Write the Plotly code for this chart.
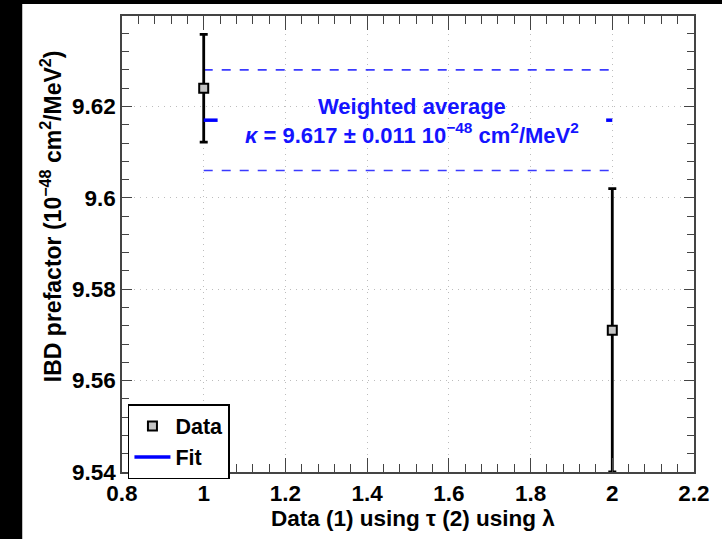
import plotly.graph_objects as go

# ---- data ----
meas_x = [1, 2]
meas_y = [9.624, 9.571]
meas_err = [0.0118, 0.031]

avg_value = 9.617
avg_err = 0.011
avg_x_span = [1, 2]

fit_x = [1.0, 1.034, None, 1.985, 2.0]
fit_y = [9.617, 9.617, None, 9.617, 9.617]

x_range = [0.8, 2.2]
y_range = [9.54, 9.6398]

FONT = "Liberation Sans, Arial, Helvetica, sans-serif"
BLUE = "#1414ff"

fig = go.Figure()

# weighted average band (dashed)
for yv in [avg_value + avg_err, avg_value - avg_err]:
    fig.add_trace(go.Scatter(
        x=avg_x_span, y=[yv, yv], mode="lines",
        line=dict(color="#3a3aff", width=1.6, dash="dash"),
        showlegend=False, hoverinfo="skip"))

fig.add_trace(go.Scatter(
    x=meas_x, y=meas_y, mode="markers", name="Data",
    marker=dict(symbol="square", size=9, color="#c4c4c4",
                line=dict(color="black", width=2)),
    error_y=dict(type="data", array=meas_err, color="black",
                 thickness=2.8, width=4),
))

fig.add_trace(go.Scatter(
    x=fit_x, y=fit_y, mode="lines", name="Fit",
    line=dict(color="#0000ff", width=3.5),
))

axis_common = dict(
    showline=True, linecolor="#444", linewidth=1.5, mirror="allticks",
    ticks="inside", tickcolor="#444", tickwidth=1.2,
    showgrid=True, gridcolor="#bdbdbd", griddash="1px,5px", gridwidth=1,
    zeroline=False,
    tickfont=dict(family=FONT, size=22.5, color="black", weight="bold"),
)

fig.update_xaxes(range=x_range, dtick=0.2, tick0=0.8, ticklen=14,
                 minor=dict(dtick=0.04, ticks="inside", ticklen=8,
                            tickcolor="#444", showgrid=False),
                 **axis_common)
fig.update_yaxes(range=y_range, dtick=0.02, tick0=9.54, ticklen=10,
                 minor=dict(dtick=0.004, ticks="inside", ticklen=7,
                            tickcolor="#444", showgrid=False),
                 **axis_common)

annotations = [
    dict(x=1.51, y=9.6168, xref="x", yref="y", showarrow=False,
         text="Weighted average<br><i>κ</i> = 9.617 ± 0.011 10<sup>−48</sup> cm<sup>2</sup>/MeV<sup>2</sup>",
         font=dict(family=FONT, size=22, color=BLUE, weight="bold")),
    dict(x=0.508, y=-0.102, xref="paper", yref="paper", showarrow=False,
         xanchor="center", yanchor="middle",
         text="Data (1) using τ (2) using λ",
         font=dict(family=FONT, size=22.5, color="black", weight="bold")),
    dict(x=-0.125, y=0.56, xref="paper", yref="paper", showarrow=False,
         xanchor="center", yanchor="middle", textangle=-90,
         text="IBD prefactor (10<sup>−48</sup> cm<sup>2</sup>/MeV<sup>2</sup>)",
         font=dict(family=FONT, size=23, color="black", weight="bold")),
]

shapes = [
    # black strips at left and top of the canvas
    dict(type="rect", xref="paper", yref="paper", x0=-0.22, x1=-0.1744,
         y0=-0.2, y1=1.1, fillcolor="black", line=dict(width=0), layer="above"),
    dict(type="rect", xref="paper", yref="paper", x0=-0.22, x1=1.1,
         y0=1.0263, y1=1.1, fillcolor="black", line=dict(width=0), layer="above"),
]

fig.update_layout(
    width=722, height=539,
    margin=dict(l=122, r=21, t=16, b=67),
    paper_bgcolor="white", plot_bgcolor="white",
    annotations=annotations, shapes=shapes,
    legend=dict(x=0.0104, y=0.149, xanchor="left", yanchor="top",
                bgcolor="white", bordercolor="black", borderwidth=1.5,
                font=dict(family=FONT, size=21.5, color="black", weight="bold"),
                itemwidth=36, tracegroupgap=0),
)

fig.write_html("out.html")
